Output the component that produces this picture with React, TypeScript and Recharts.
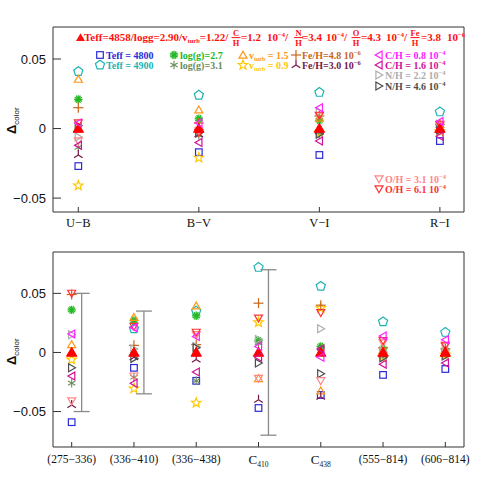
import React from 'react';
import { ScatterChart, Scatter, XAxis, YAxis, ErrorBar } from 'recharts';

const SERIF = '"Liberation Serif", "Times New Roman", serif';
const SANS = '"Liberation Sans", Arial, sans-serif';
const FRAME = '#333';

// categories / tick labels
const topCats = ['U−B', 'B−V', 'V−I', 'R−I'];
const botCats = ['(275−336)', '(336−410)', '(336−438)', 'C', 'C', '(555−814)', '(606−814)'];
const botSubs = ['', '', '', '410', '438', '', ''];

const topX = [1, 2, 3, 4];
const topXHalf = [1.5, 2.5, 3.5];
const botX = [1, 2, 3, 4, 5, 6, 7];
const botXHalf = [1.5, 2.5, 3.5, 4.5, 5.5, 6.5];

const yMajor = [-0.05, 0, 0.05];
const topYMinor = [-0.04, -0.03, -0.02, -0.01, 0.01, 0.02, 0.03, 0.04, 0.06, 0.07];
const botYMinor = [-0.07, -0.06, -0.04, -0.03, -0.02, -0.01, 0.01, 0.02, 0.03, 0.04, 0.06, 0.07, 0.08];

// series values (top: U-B, B-V, V-I, R-I ; bottom: 7 colour indices)
const refTop = [0, 0, 0, 0];
const refBot = [0, 0, 0, 0, 0, 0, 0];
const teff4800Top = [-0.027, -0.017, -0.019, -0.009];
const teff4800Bot = [-0.059, -0.013, -0.024, -0.047, -0.036, -0.019, -0.014];
const teff4900Top = [0.041, 0.024, 0.026, 0.012];
const teff4900Bot = [null, 0.02, 0.035, 0.072, 0.056, 0.026, 0.017];
const logg27Top = [0.021, 0.007, 0.006, 0.002];
const logg27Bot = [0.036, 0.027, 0.031, 0.01, 0.005, 0.003, 0.002];
const logg31Top = [-0.0135, -0.005, -0.004, -0.002];
const logg31Bot = [-0.026, -0.021, -0.024, 0.008, 0.003, -0.004, -0.002];
const vturb15Top = [0.0355, 0.0135, 0.0075, 0.003];
const vturb15Bot = [0.0067, 0.0297, 0.0395, -0.022, -0.0325, 0.002, 0.002];
const vturb09Top = [-0.041, -0.021, -0.003, -0.002];
const vturb09Bot = [-0.006, -0.0305, -0.0426, 0.0255, 0.0375, -0.004, -0.002];
const feh48Top = [0.015, 0.004, 0.009, 0.003];
const feh48Bot = [0.049, 0.006, 0.0067, 0.0417, 0.04, 0.004, 0.003];
const feh30Top = [-0.019, -0.004, -0.002, -0.001];
const feh30Bot = [-0.0445, -0.004, -0.006, -0.04, -0.0375, -0.002, -0.001];
const ch08Top = [0.004, 0.004, 0.015, 0.005];
const ch08Bot = [0.0157, 0.021, 0.0135, 0.005, -0.004, 0.014, 0.0107];
const ch16Top = [-0.012, -0.01, -0.009, -0.0055];
const ch16Bot = [-0.02, -0.026, -0.0165, -0.004, 0.003, -0.01, -0.009];
const nh22Top = [-0.006, -0.002, 0.012, 0.003];
const nh22Bot = [0.015, 0.003, 0.005, 0.011, 0.02, 0.001, 0.002];
const nh46Top = [0.002, -0.003, -0.004, -0.001];
const nh46Bot = [-0.013, -0.005, 0.004, -0.009, -0.018, -0.0045, -0.003];
const oh31Top = [-0.009, -0.002, 0.009, 0.002];
const oh31Bot = [-0.041, -0.02, 0.015, -0.022, -0.024, 0.008, 0.005];
const oh61Top = [0.004, -0.003, 0.0095, 0.003];
const oh61Bot = [0.05, 0.022, 0.017, 0.029, 0.0336, 0.01, 0.006];

// systematic error bars (bottom panel)
const errCats = [1, 2, 4];
const errHalf = [0.05, 0.035, 0.07];

const C = {
  ref: '#ff0000',
  teff4800: '#2a2ad8',
  teff4900: '#1fb3b3',
  logg27: '#22b822',
  logg31: '#6c8c5c',
  vturb15: '#ff9616',
  vturb09: '#ffc800',
  feh48: '#c8661a',
  feh30: '#761846',
  ch08: '#ff20ff',
  ch16: '#d0109a',
  nh22: '#adadad',
  nh46: '#4c4c4c',
  oh31: '#ff8686',
  oh61: '#ff3030',
};

const series = [
  { id: 'teff4800', kind: 'square', top: teff4800Top, bot: teff4800Bot },
  { id: 'teff4900', kind: 'pent', top: teff4900Top, bot: teff4900Bot },
  { id: 'logg27', kind: 'burst', top: logg27Top, bot: logg27Bot },
  { id: 'logg31', kind: 'ast', top: logg31Top, bot: logg31Bot },
  { id: 'vturb15', kind: 'tri', top: vturb15Top, bot: vturb15Bot },
  { id: 'vturb09', kind: 'star', top: vturb09Top, bot: vturb09Bot },
  { id: 'feh48', kind: 'plus', top: feh48Top, bot: feh48Bot },
  { id: 'feh30', kind: 'tripod', top: feh30Top, bot: feh30Bot },
  { id: 'nh22', kind: 'right', top: nh22Top, bot: nh22Bot },
  { id: 'nh46', kind: 'right', top: nh46Top, bot: nh46Bot },
  { id: 'oh31', kind: 'down', top: oh31Top, bot: oh31Bot },
  { id: 'oh61', kind: 'down', top: oh61Top, bot: oh61Bot },
  { id: 'ref', kind: 'ref', top: refTop, bot: refBot },
  { id: 'ch08', kind: 'left', top: ch08Top, bot: ch08Bot },
  { id: 'ch16', kind: 'left', top: ch16Top, bot: ch16Bot },
];

function poly(cx, cy, r, n, rot) {
  const pts = [];
  for (let i = 0; i < n; i++) {
    const a = rot + (i * 2 * Math.PI) / n;
    pts.push(`${cx + r * Math.cos(a)},${cy + r * Math.sin(a)}`);
  }
  return pts.join(' ');
}

function starPts(cx, cy, r1, r2) {
  const pts = [];
  for (let i = 0; i < 10; i++) {
    const r = i % 2 === 0 ? r1 : r2;
    const a = -Math.PI / 2 + (i * Math.PI) / 5;
    pts.push(`${cx + r * Math.cos(a)},${cy + r * Math.sin(a)}`);
  }
  return pts.join(' ');
}

function spokes(cx, cy, r, n, color, sw) {
  const out = [];
  for (let i = 0; i < n; i++) {
    const a = (i * Math.PI) / n + Math.PI / 2;
    out.push(
      <line key={i} x1={cx - r * Math.cos(a)} y1={cy - r * Math.sin(a)} x2={cx + r * Math.cos(a)} y2={cy + r * Math.sin(a)} stroke={color} strokeWidth={sw} />
    );
  }
  return out;
}

function Mark({ kind, cx, cy, color }) {
  if (cx == null || cy == null) return <g />;
  const sw = 1.2;
  const open = { fill: 'none', stroke: color, strokeWidth: sw };
  switch (kind) {
    case 'ref':
      return <polygon points={poly(cx, cy + 0.8, 6, 3, -Math.PI / 2)} fill={color} stroke={color} />;
    case 'square':
      return <rect x={cx - 3.3} y={cy - 3.3} width={6.6} height={6.6} {...open} />;
    case 'pent':
      return <polygon points={poly(cx, cy, 4.8, 5, -Math.PI / 2)} {...open} />;
    case 'burst':
      return <g>{spokes(cx, cy, 4.2, 6, color, 1.3)}</g>;
    case 'ast':
      return <g>{spokes(cx, cy, 4.2, 3, color, 1.1)}</g>;
    case 'tri':
      return <polygon points={poly(cx, cy + 0.8, 4.6, 3, -Math.PI / 2)} {...open} />;
    case 'star':
      return <polygon points={starPts(cx, cy, 5, 2.1)} {...open} />;
    case 'plus':
      return (
        <g stroke={color} strokeWidth={sw}>
          <line x1={cx - 5} y1={cy} x2={cx + 5} y2={cy} />
          <line x1={cx} y1={cy - 5} x2={cx} y2={cy + 5} />
        </g>
      );
    case 'tripod':
      return (
        <g stroke={color} strokeWidth={sw}>
          <line x1={cx} y1={cy} x2={cx} y2={cy - 5} />
          <line x1={cx} y1={cy} x2={cx - 4.3} y2={cy + 2.8} />
          <line x1={cx} y1={cy} x2={cx + 4.3} y2={cy + 2.8} />
        </g>
      );
    case 'left':
      return <polygon points={poly(cx + 0.8, cy, 4.6, 3, Math.PI)} {...open} />;
    case 'right':
      return <polygon points={poly(cx - 0.8, cy, 4.6, 3, 0)} {...open} />;
    case 'down':
      return <polygon points={poly(cx, cy - 0.8, 4.6, 3, Math.PI / 2)} {...open} />;
    default:
      return <g />;
  }
}

const fmtY = (v) => (v === 0 ? '0' : v > 0 ? v.toFixed(2) : '\u2212' + Math.abs(v).toFixed(2));

const TopTick = (p) => (
  <text x={p.x} y={p.y} dy="0.71em" textAnchor="middle" fontFamily={SERIF} fontSize={12.5} fill="#111">
    {topCats[Math.round(p.payload.value) - 1]}
  </text>
);

const BotTick = (p) => {
  const i = Math.round(p.payload.value) - 1;
  return (
    <text x={p.x} y={p.y} dy="0.71em" textAnchor="middle" fontFamily={SERIF} fontSize={botSubs[i] ? 13 : 11.5} fill="#111">
      {botCats[i]}
      {botSubs[i] ? (
        <tspan fontSize={7.5} dy={3} fill="#111">
          {botSubs[i]}
        </tspan>
      ) : null}
    </text>
  );
};

function Panel({ height, margin, xDomain, xTicks, xHalf, yDomain, yMinor, which, tick, tickMargin, xHeight, errors }) {
  const common = { type: 'number', allowDataOverflow: true, interval: 0, stroke: FRAME };
  return (
    <ScatterChart width={491} height={height} margin={margin}>
      <XAxis xAxisId="b" dataKey="x" {...common} domain={xDomain} ticks={xTicks} tick={tick} tickSize={-5} tickMargin={tickMargin} height={xHeight} />
      <XAxis xAxisId="bm" {...common} mirror height={1} domain={xDomain} ticks={xHalf} tick={false} tickSize={4} axisLine={false} />
      <XAxis xAxisId="t" {...common} orientation="top" mirror height={1} domain={xDomain} ticks={[...xTicks, ...xHalf]} tick={false} tickSize={5} />
      <YAxis yAxisId="lm" {...common} mirror width={1} domain={yDomain} ticks={yMinor} tick={false} tickSize={4} axisLine={false} />
      <YAxis
        yAxisId="l"
        dataKey="y"
        {...common}
        width={40}
        domain={yDomain}
        ticks={yMajor}
        tickSize={-8}
        tickMargin={15}
        tickFormatter={fmtY}
        tick={{ fontFamily: SANS, fontSize: 13, fill: '#111' }}
      />
      <YAxis yAxisId="r" {...common} orientation="right" mirror width={1} domain={yDomain} ticks={yMajor} tick={false} tickSize={8} />
      <YAxis yAxisId="rm" {...common} orientation="right" mirror width={1} domain={yDomain} ticks={yMinor} tick={false} tickSize={4} axisLine={false} />
      {errors ? (
        <Scatter xAxisId="b" yAxisId="l" data={errors} isAnimationActive={false} shape={() => <g />}>
          <ErrorBar dataKey="err" direction="y" width={8} stroke="#8a8a8a" strokeWidth={1.3} />
        </Scatter>
      ) : null}
      {series.map((s) => {
        const vals = which === 'top' ? s.top : s.bot;
        const data = vals.map((v, i) => ({ x: i + 1, y: v })).filter((d) => d.y != null);
        return (
          <Scatter
            key={s.id}
            xAxisId="b"
            yAxisId="l"
            data={data}
            isAnimationActive={false}
            shape={(p) => <Mark kind={s.kind} cx={p.cx} cy={p.cy} color={C[s.id]} />}
          />
        );
      })}
    </ScatterChart>
  );
}

const Sup = ({ t }) => (
  <tspan fontSize={6.5} dy={-4}>
    {t}
  </tspan>
);

function Frac({ cx, num, den, color }) {
  return (
    <g fill={color} fontFamily={SERIF} fontWeight={700} fontSize={8.5} textAnchor="middle">
      <text x={cx} y={36}>{num}</text>
      <line x1={cx - 4.5} x2={cx + 4.5} y1={37.6} y2={37.6} stroke={color} strokeWidth={1} />
      <text x={cx} y={45.5}>{den}</text>
    </g>
  );
}

function LegendItem({ kind, color, x, y, children }) {
  return (
    <g>
      <Mark kind={kind} cx={x} cy={y - 3.5} color={color} />
      <text x={x + 6} y={y} fontFamily={SERIF} fontWeight={700} fontSize={10} fill={color}>
        {children}
      </text>
    </g>
  );
}

function Overlay() {
  const R = '#ff1010';
  const hdr = { fontFamily: SERIF, fontWeight: 700, fontSize: 11, fill: R };
  const r1 = 58.5;
  const r2 = 68.5;
  return (
    <svg width={491} height={491} style={{ position: 'absolute', left: 0, top: 0, pointerEvents: 'none' }}>
      {/* reference model header */}
      <polygon points={poly(80.5, 38.5, 5.2, 3, -Math.PI / 2)} fill={R} />
      <text x={84} y={41} {...hdr}>
        Teff=4858/logg=2.90/v
        <tspan fontSize={6.5} dy={2}>turb</tspan>
        <tspan dy={-2}>=1.22/</tspan>
      </text>
      <Frac cx={236} num="C" den="H" color={R} />
      <text x={241} y={41} {...hdr}>=1.2</text>
      <text x={267} y={41} {...hdr}>
        10<Sup t="−4" />
        <tspan dy={4}>/</tspan>
      </text>
      <Frac cx={298.5} num="N" den="H" color={R} />
      <text x={302} y={41} {...hdr}>=3.4</text>
      <text x={326} y={41} {...hdr}>
        10<Sup t="−4" />
        <tspan dy={4}>/</tspan>
      </text>
      <Frac cx={356} num="O" den="H" color={R} />
      <text x={361} y={41} {...hdr}>=4.3</text>
      <text x={386} y={41} {...hdr}>
        10<Sup t="−4" />
        <tspan dy={4}>/</tspan>
      </text>
      <Frac cx={415} num="Fe" den="H" color={R} />
      <text x={421} y={41} {...hdr}>=3.8</text>
      <text x={447} y={41} {...hdr}>
        10<Sup t="−6" />
      </text>

      {/* legend */}
      <LegendItem kind="square" color={C.teff4800} x={100} y={r1}>Teff = 4800</LegendItem>
      <LegendItem kind="pent" color={C.teff4900} x={100} y={r2}>Teff = 4900</LegendItem>
      <LegendItem kind="burst" color={C.logg27} x={174} y={r1}>log(g)=2.7</LegendItem>
      <LegendItem kind="ast" color={C.logg31} x={174} y={r2}>log(g)=3.1</LegendItem>
      <LegendItem kind="tri" color={C.vturb15} x={243} y={r1}>
        v<tspan fontSize={6} dy={2}>turb</tspan>
        <tspan dy={-2}> = 1.5</tspan>
      </LegendItem>
      <LegendItem kind="star" color={C.vturb09} x={243} y={r2}>
        v<tspan fontSize={6} dy={2}>turb</tspan>
        <tspan dy={-2}> = 0.9</tspan>
      </LegendItem>
      <LegendItem kind="plus" color={C.feh48} x={296} y={r1}>
        Fe/H=4.8 10<Sup t="−6" />
      </LegendItem>
      <LegendItem kind="tripod" color={C.feh30} x={296} y={r2}>
        Fe/H=3.0 10<Sup t="−6" />
      </LegendItem>
      <LegendItem kind="left" color={C.ch08} x={379} y={r1}>
        C/H = 0.8 10<Sup t="−4" />
      </LegendItem>
      <LegendItem kind="left" color={C.ch16} x={379} y={r2}>
        C/H = 1.6 10<Sup t="−4" />
      </LegendItem>
      <LegendItem kind="right" color={C.nh22} x={379} y={78.5}>
        N/H = 2.2 10<Sup t="−4" />
      </LegendItem>
      <LegendItem kind="right" color={C.nh46} x={379} y={89.5}>
        N/H = 4.6 10<Sup t="−4" />
      </LegendItem>
      <LegendItem kind="down" color={C.oh31} x={379} y={182.5}>
        O/H = 3.1 10<Sup t="−4" />
      </LegendItem>
      <LegendItem kind="down" color={C.oh61} x={379} y={192.5}>
        O/H = 6.1 10<Sup t="−4" />
      </LegendItem>

      {/* y-axis titles */}
      <text transform="translate(16,134) rotate(-90)" fontFamily={SANS} fontWeight={700} fontSize={13} fill="#111">
        Δ<tspan fontSize={8} fontWeight={400} dy={3}>color</tspan>
      </text>
      <text transform="translate(16,365) rotate(-90)" fontFamily={SANS} fontWeight={700} fontSize={13} fill="#111">
        Δ<tspan fontSize={8} fontWeight={400} dy={3}>color</tspan>
      </text>
    </svg>
  );
}

export default function App() {
  const errors = errCats.map((c, i) => ({ x: c + 0.16, y: 0, err: errHalf[i] }));
  return (
    <div style={{ position: 'absolute', left: 0, top: 0, width: 491, height: 491, background: '#fff' }}>
      <div style={{ position: 'absolute', left: 0, top: 0 }}>
        <Panel
          which="top"
          height={240}
          margin={{ top: 27, right: 27, bottom: 8, left: 13 }}
          xDomain={[0.79, 4.2]}
          xTicks={topX}
          xHalf={topXHalf}
          yDomain={[-0.06, 0.073]}
          yMinor={topYMinor}
          tick={TopTick}
          tickMargin={11}
          xHeight={20}
        />
      </div>
      <div style={{ position: 'absolute', left: 0, top: 230 }}>
        <Panel
          which="bot"
          height={250}
          margin={{ top: 22, right: 27, bottom: 8, left: 13 }}
          xDomain={[0.7, 7.3]}
          xTicks={botX}
          xHalf={botXHalf}
          yDomain={[-0.08, 0.085]}
          yMinor={botYMinor}
          tick={BotTick}
          tickMargin={13}
          xHeight={25}
          errors={errors}
        />
      </div>
      <Overlay />
    </div>
  );
}
